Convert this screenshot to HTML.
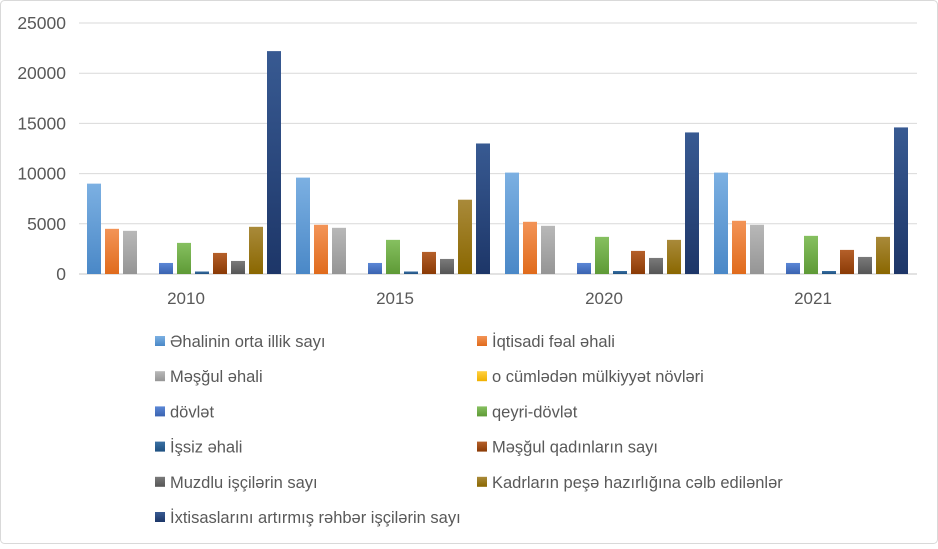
<!DOCTYPE html>
<html><head><meta charset="utf-8"><style>
html,body{margin:0;padding:0;background:#fff}
body{width:938px;height:544px;overflow:hidden}
svg text{font-family:"Liberation Sans",sans-serif;fill:#595959}
</style></head><body>
<svg id="c" width="938" height="544" xmlns="http://www.w3.org/2000/svg">
<rect x="0.5" y="0.5" width="937" height="543" rx="4" fill="#fff" stroke="#d9d9d9"/>
<defs id="d"></defs>
<g id="g"></g>
</svg>
<script>
var cols=[["#5b9bd5","#7cb0e2","#4a88c7"],["#ed7d31","#f39457","#e06b1c"],["#a5a5a5","#b8b8b8","#959595"],["#ffc000","#ffd040","#f0b000"],["#4472c4","#5b87d6","#3a63b0"],["#70ad47","#86c060","#5e9a36"],["#255e91","#3a70a3","#1e5080"],["#9e480e","#b5602a","#8a3a05"],["#636363","#7a7a7a","#555"],["#997300","#a98a3a","#8a6700"],["#264478","#385a92","#1d3668"]];
var data=[[9000,4500,4300,0,1100,3100,250,2100,1300,4700,22200],[9600,4900,4600,0,1100,3400,250,2200,1500,7400,13000],[10100,5200,4800,0,1100,3700,300,2300,1600,3400,14100],[10100,5300,4900,0,1100,3800,300,2400,1700,3700,14600]];
var names=["Əhalinin orta illik sayı","İqtisadi fəal əhali","Məşğul əhali","o cümlədən mülkiyyət növləri","dövlət","qeyri-dövlət","İşsiz əhali","Məşğul qadınların sayı","Muzdlu işçilərin sayı","Kadrların peşə hazırlığına cəlb edilənlər","İxtisaslarını artırmış rəhbər işçilərin sayı"];
var s="",d="";
cols.forEach(function(c,i){d+='<linearGradient id="gr'+i+'" x1="0" y1="0" x2="0" y2="1"><stop offset="0" stop-color="'+c[1]+'"/><stop offset="1" stop-color="'+c[2]+'"/></linearGradient>';});
for(var k=0;k<=5;k++){var y=274-k*50.2;s+='<line x1="79" x2="917" y1="'+y+'" y2="'+y+'" stroke="#d9d9d9" stroke-width="'+(k==0?1.5:1)+'"/>';s+='<text x="66" y="'+(y+6)+'" font-size="17.5" text-anchor="end">'+(k*5000)+'</text>';}
var yrs=["2010","2015","2020","2021"];
data.forEach(function(g,gi){var x0=87+gi*209;g.forEach(function(v,i){if(!v)return;var h=v*0.01004;s+='<rect x="'+(x0+i*18)+'" y="'+(274-h)+'" width="14" height="'+h+'" fill="url(#gr'+i+')"/>';});s+='<text x="'+(186+gi*209)+'" y="304" font-size="17" text-anchor="middle">'+yrs[gi]+'</text>';});
names.forEach(function(n,i){var col=i%2,row=Math.floor(i/2);var x=col?477:155,y=341+row*35.2;s+='<rect x="'+x+'" y="'+(y-5)+'" width="10" height="10" fill="url(#gr'+i+')"/><text x="'+(x+15)+'" y="'+(y+6)+'" font-size="16.5">'+n+'</text>';});
document.getElementById("d").innerHTML=d;document.getElementById("g").innerHTML=s;
</script>
</body></html>
